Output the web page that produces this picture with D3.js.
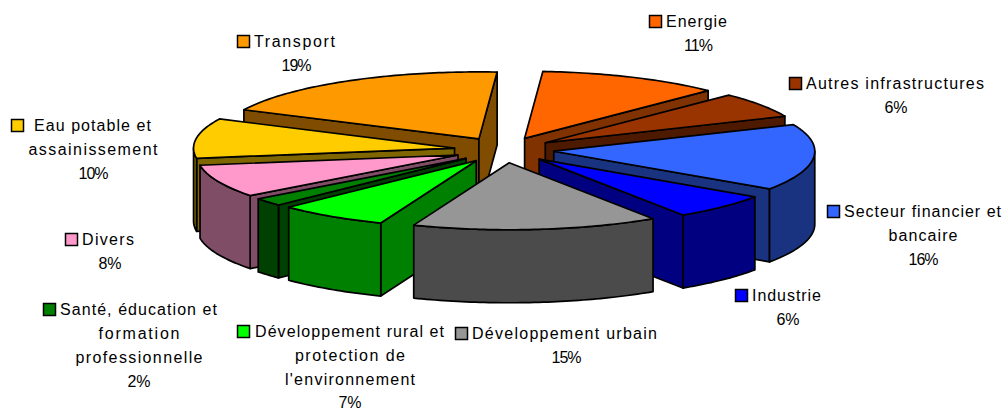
<!DOCTYPE html>
<html>
<head>
    <meta charset="utf-8">
    <script src="https://d3js.org/d3.v7.min.js" charset="utf-8"></script>
    <style>
        html, body { margin: 0; padding: 0; background: #fff; }
        svg { display: block; }
        text { font-family: "Liberation Sans", Arial, sans-serif; font-size: 16px; fill: #000; }
    </style>
</head>
<body>
    <script>
        var categories = ["Energie", "Autres infrastructures", "Secteur financier et bancaire", "Industrie",
            "Développement urbain", "Développement rural et protection de l'environnement",
            "Santé, éducation et formation professionnelle", "Divers", "Eau potable et assainissement", "Transport"];
        var values = [11.3, 6.1, 16, 6.2, 15.25, 6.8, 1.9, 7.9, 9.6, 18.95];
        var colors = ["#FF6600", "#993300", "#3366FF", "#0000FF", "#969696", "#00FF00", "#008000", "#FF99CC", "#FFCC00", "#FF9900"];
        var percents = ["11%", "6%", "16%", "6%", "15%", "7%", "2%", "8%", "10%", "19%"];
        var labelLines = [
            ["Energie"],
            ["Autres infrastructures"],
            ["Secteur financier et", "bancaire"],
            ["Industrie"],
            ["Développement urbain"],
            ["Développement rural et", "protection de", "l'environnement"],
            ["Santé, éducation et", "formation", "professionnelle"],
            ["Divers"],
            ["Eau potable et", "assainissement"],
            ["Transport"]
        ];

        // swatch corner, start of first line, centre of the other lines, stretched line widths
        var labelBoxes = [
            { x: 649, y: 15, tx: 666, c: 698, w: [61] },
            { x: 789, y: 77, tx: 806, c: 896, w: [178] },
            { x: 827, y: 205, tx: 844, c: 923, w: [157, 69] },
            { x: 735, y: 289, tx: 752, c: 788, w: [69] },
            { x: 455, y: 327, tx: 472, c: 566, w: [185] },
            { x: 237, y: 325, tx: 255, c: 350, w: [189, 110, 130] },
            { x: 43, y: 303, tx: 60, c: 139, w: [157, 81, 127] },
            { x: 65, y: 233, tx: 82, c: 110, w: [52] },
            { x: 11, y: 119, tx: 34, c: 93, w: [117, 129] },
            { x: 237, y: 35, tx: 254, c: 296, w: [81] }
        ];

        var width = 1003, height = 409;
        var cx = 504, cy = 150, rx = 261, ry = 67, depth = 73, explode = 50 / 261;
        var rad = Math.PI / 180;

        var svg = d3.select("body")
            .append("svg")
            .attr("width", width)
            .attr("height", height);

        var xs = d3.scaleLinear().domain([-1, 1]).range([cx - rx, cx + rx]);
        var ys = d3.scaleLinear().domain([-1, 1]).range([cy - ry, cy + ry]);

        var pie = d3.pie().sort(null).startAngle(4 * rad).endAngle(364 * rad);
        var slices = pie(values).map(function (d, i) {
            var mid = (d.startAngle + d.endAngle) / 2;
            return {
                i: i,
                a0: d.startAngle,
                a1: d.endAngle,
                ox: explode * Math.sin(mid),
                oy: -explode * Math.cos(mid)
            };
        });

        var line = d3.line();

        function point(s, r, a, drop) {
            return [xs(s.ox + r * Math.sin(a)), ys(s.oy - r * Math.cos(a)) + drop];
        }
        function arcPoints(s, a0, a1, drop) {
            var n = Math.max(2, Math.ceil((a1 - a0) / rad));
            return d3.range(n + 1).map(function (j) {
                return point(s, 1, a0 + (a1 - a0) * j / n, drop);
            });
        }
        function wall(s, a) {
            return [point(s, 0, a, 0), point(s, 1, a, 0), point(s, 1, a, depth), point(s, 0, a, depth)];
        }
        function dark(c) {
            var k = d3.rgb(c);
            return d3.rgb(k.r / 2, k.g / 2, k.b / 2).formatHex();
        }

        // back to front
        var order = slices.slice().sort(function (a, b) { return a.oy - b.oy; });

        var groups = svg.selectAll("g.slice")
            .data(order)
            .enter()
            .append("g")
            .attr("class", "slice")
            .attr("stroke", "#000")
            .attr("stroke-width", 1.7)
            .attr("stroke-linejoin", "round");

        groups.each(function (s) {
            var g = d3.select(this);
            var side = dark(colors[s.i]);
            var end = s.a1 % (2 * Math.PI);
            if (s.a0 > Math.PI) {
                g.append("path").attr("d", line(wall(s, s.a0)) + "Z").attr("fill", side);
            }
            if (end < Math.PI) {
                g.append("path").attr("d", line(wall(s, end)) + "Z").attr("fill", side);
            }
            var from = Math.max(s.a0, Math.PI / 2), to = Math.min(s.a1, 1.5 * Math.PI);
            if (to > from) {
                var pts = arcPoints(s, from, to, 0).concat(arcPoints(s, from, to, depth).reverse());
                g.append("path").attr("d", line(pts) + "Z").attr("fill", side);
            }
            var top = [point(s, 0, s.a0, 0)].concat(arcPoints(s, s.a0, s.a1, 0));
            g.append("path").attr("d", line(top) + "Z").attr("fill", colors[s.i]);
        });

        // labels
        var labels = svg.selectAll("g.label")
            .data(categories)
            .enter()
            .append("g")
            .attr("class", "label");

        labels.each(function (name, i) {
            var g = d3.select(this), box = labelBoxes[i];
            g.append("rect")
                .attr("x", box.x + 0.5).attr("y", box.y + 0.5)
                .attr("width", 12).attr("height", 12)
                .attr("fill", colors[i])
                .attr("stroke", "#000")
                .attr("stroke-width", 1.5);
            labelLines[i].forEach(function (t, j) {
                var el = g.append("text").text(t)
                    .attr("y", box.y + 12 + j * 24)
                    .attr("textLength", box.w[j])
                    .attr("lengthAdjust", "spacing");
                if (j == 0) el.attr("x", box.tx);
                else el.attr("x", box.c - box.w[j] / 2);
            });
            g.append("text").text(percents[i])
                .attr("x", box.c)
                .attr("y", Math.min(box.y + 12 + labelLines[i].length * 24, 408))
                .attr("text-anchor", "middle")
                .attr("letter-spacing", percents[i].length > 2 ? -1 : 0);
        });
    </script>
</body>
</html>
